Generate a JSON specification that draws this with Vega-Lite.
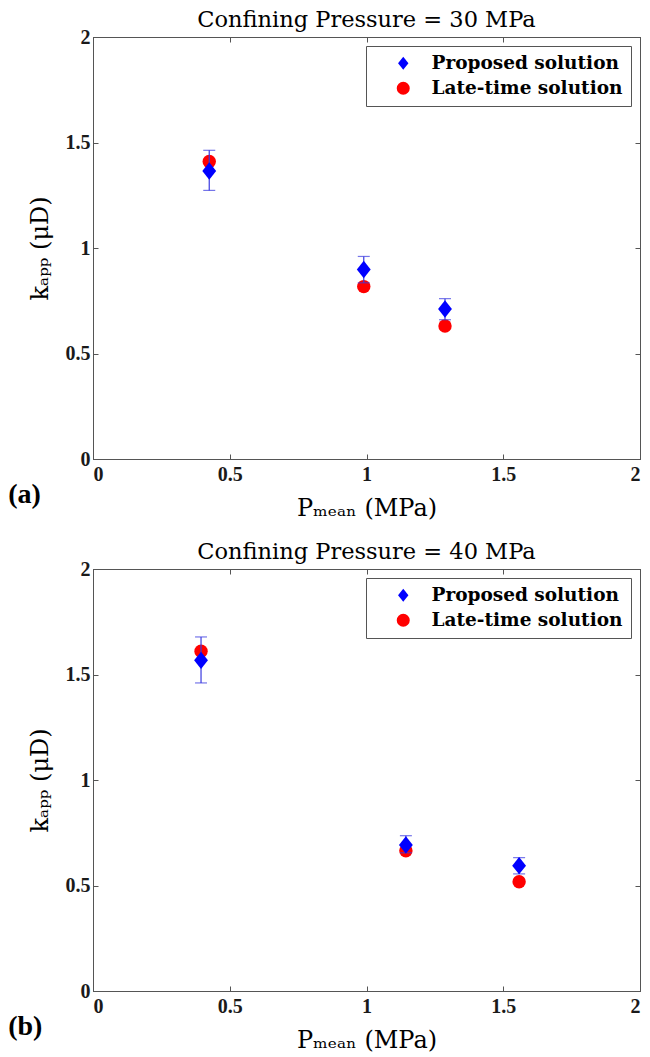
{
  "$schema": "https://vega.github.io/schema/vega-lite/v6.json",
  "autosize": {"type": "pad"},
  "padding": {"left": 7, "top": 8, "right": 5, "bottom": 5},
  "background": "white",
  "config": {
    "view": {"stroke": "#555555", "strokeWidth": 1},
    "font": "Liberation Serif",
    "title": {"font": "DejaVu Serif", "fontSize": 22.5, "fontWeight": "normal", "color": "#000000", "offset": -4},
    "axis": {
      "grid": false,
      "domainColor": "#555555",
      "tickColor": "#555555",
      "tickSize": -5,
      "labelFont": "Liberation Serif",
      "labelFontWeight": "bold",
      "labelFontSize": 20,
      "labelColor": "#1a1a1a",
      "titleFont": "DejaVu Serif",
      "titleFontWeight": "normal",
      "titleFontSize": 24,
      "titleColor": "#000000",
      "labelPadding": 8
    },
    "legend": {
      "labelFont": "DejaVu Serif",
      "labelFontWeight": "bold",
      "labelFontSize": 18.5,
      "labelColor": "#000000",
      "labelLimit": 400,
      "strokeColor": "#555555",
      "fillColor": "white",
      "padding": 8,
      "offset": 9,
      "rowPadding": 6,
      "symbolSize": 170,
      "labelOffset": 19,
      "symbolOffset": 20
    }
  },
  "datasets": {
    "pts": [
      {"panel": "a", "series": "Late-time solution", "x": 0.425, "y": 1.41},
      {"panel": "a", "series": "Late-time solution", "x": 0.99, "y": 0.817},
      {"panel": "a", "series": "Late-time solution", "x": 1.287, "y": 0.63},
      {"panel": "a", "series": "Proposed solution", "x": 0.425, "y": 1.365, "lo": 1.273, "hi": 1.463},
      {"panel": "a", "series": "Proposed solution", "x": 0.99, "y": 0.898, "lo": 0.835, "hi": 0.96},
      {"panel": "a", "series": "Proposed solution", "x": 1.287, "y": 0.711, "lo": 0.66, "hi": 0.76},
      {"panel": "b", "series": "Late-time solution", "x": 0.395, "y": 1.61},
      {"panel": "b", "series": "Late-time solution", "x": 1.144, "y": 0.665},
      {"panel": "b", "series": "Late-time solution", "x": 1.558, "y": 0.518},
      {"panel": "b", "series": "Proposed solution", "x": 0.395, "y": 1.567, "lo": 1.46, "hi": 1.678},
      {"panel": "b", "series": "Proposed solution", "x": 1.144, "y": 0.692, "lo": 0.655, "hi": 0.736},
      {"panel": "b", "series": "Proposed solution", "x": 1.558, "y": 0.594, "lo": 0.555, "hi": 0.632}
    ],
    "tags": [
      {"panel": "a", "label": "(a)"},
      {"panel": "b", "label": "(b)"}
    ]
  },
  "spacing": 110,
  "bounds": "flush",
  "resolve": {
    "scale": {"color": "independent", "shape": "independent"},
    "legend": {"color": "independent", "shape": "independent"}
  },
  "vconcat": [
    {
      "title": "Confining Pressure = 30 MPa",
      "width": 547,
      "height": 422,
      "resolve": {"axis": {"x": "independent", "y": "independent"}},
      "layer": [
        {
          "data": {"name": "pts"},
          "transform": [{"filter": "datum.panel === 'a' && datum.series === 'Late-time solution'"}],
          "mark": {"type": "point", "filled": true, "opacity": 1, "size": 180},
          "encoding": {
            "x": {"field": "x", "type": "quantitative", "scale": {"domain": [0, 2], "nice": false}, "axis": {"values": [0, 0.5, 1, 1.5, 2], "format": "~g", "title": "Pₘₑₐₙ (MPa)", "titlePadding": 12, "labelPadding": 10}},
            "y": {"field": "y", "type": "quantitative", "scale": {"domain": [0, 2], "nice": false}, "axis": {"values": [0, 0.5, 1, 1.5, 2], "format": "~g", "title": "kₐₚₚ (μD)", "titlePadding": 13}},
            "color": {"field": "series", "type": "nominal", "scale": {"domain": ["Proposed solution", "Late-time solution"], "range": ["#0000ff", "#ff0000"]}, "legend": {"title": null, "orient": "top-right"}},
            "shape": {"field": "series", "type": "nominal", "scale": {"domain": ["Proposed solution", "Late-time solution"], "range": ["M0,-1L0.8,0L0,1L-0.8,0Z", "circle"]}, "legend": {"title": null, "orient": "top-right"}}
          }
        },
        {
          "data": {"name": "pts"},
          "transform": [{"filter": "datum.panel === 'a' && datum.series === 'Proposed solution'"}],
          "mark": {"type": "rule", "color": "#3a3ae0", "strokeWidth": 1.2},
          "encoding": {
            "x": {"field": "x", "type": "quantitative", "axis": null},
            "y": {"field": "lo", "type": "quantitative", "axis": null},
            "y2": {"field": "hi"}
          }
        },
        {
          "data": {"name": "pts"},
          "transform": [{"filter": "datum.panel === 'a' && datum.series === 'Proposed solution'"}, {"fold": ["lo", "hi"], "as": ["end", "v"]}],
          "mark": {"type": "tick", "orient": "horizontal", "color": "#3a3ae0", "size": 12, "thickness": 1.2},
          "encoding": {
            "x": {"field": "x", "type": "quantitative", "axis": null},
            "y": {"field": "v", "type": "quantitative", "axis": null}
          }
        },
        {
          "data": {"name": "pts"},
          "transform": [{"filter": "datum.panel === 'a' && datum.series === 'Proposed solution'"}],
          "mark": {"type": "point", "filled": true, "opacity": 1, "size": 300},
          "encoding": {
            "x": {"field": "x", "type": "quantitative", "axis": {"orient": "top", "values": [0, 0.5, 1, 1.5, 2], "labels": false, "title": null}},
            "y": {"field": "y", "type": "quantitative", "axis": {"orient": "right", "values": [0, 0.5, 1, 1.5, 2], "labels": false, "title": null}},
            "color": {"field": "series", "type": "nominal", "legend": {"title": null, "orient": "top-right"}},
            "shape": {"field": "series", "type": "nominal", "legend": {"title": null, "orient": "top-right"}}
          }
        },
        {
          "data": {"name": "tags"},
          "transform": [{"filter": "datum.panel === 'a'"}],
          "mark": {"type": "text", "font": "Liberation Serif", "fontWeight": "bold", "fontSize": 28, "align": "left", "baseline": "middle", "clip": false, "color": "#000000"},
          "encoding": {
            "x": {"datum": -0.31, "type": "quantitative", "axis": null},
            "y": {"datum": -0.17, "type": "quantitative", "axis": null},
            "text": {"field": "label"}
          }
        }
      ]
    },
    {
      "title": "Confining Pressure = 40 MPa",
      "width": 547,
      "height": 422,
      "resolve": {"axis": {"x": "independent", "y": "independent"}},
      "layer": [
        {
          "data": {"name": "pts"},
          "transform": [{"filter": "datum.panel === 'b' && datum.series === 'Late-time solution'"}],
          "mark": {"type": "point", "filled": true, "opacity": 1, "size": 180},
          "encoding": {
            "x": {"field": "x", "type": "quantitative", "scale": {"domain": [0, 2], "nice": false}, "axis": {"values": [0, 0.5, 1, 1.5, 2], "format": "~g", "title": "Pₘₑₐₙ (MPa)", "titlePadding": 12, "labelPadding": 10}},
            "y": {"field": "y", "type": "quantitative", "scale": {"domain": [0, 2], "nice": false}, "axis": {"values": [0, 0.5, 1, 1.5, 2], "format": "~g", "title": "kₐₚₚ (μD)", "titlePadding": 13}},
            "color": {"field": "series", "type": "nominal", "scale": {"domain": ["Proposed solution", "Late-time solution"], "range": ["#0000ff", "#ff0000"]}, "legend": {"title": null, "orient": "top-right"}},
            "shape": {"field": "series", "type": "nominal", "scale": {"domain": ["Proposed solution", "Late-time solution"], "range": ["M0,-1L0.8,0L0,1L-0.8,0Z", "circle"]}, "legend": {"title": null, "orient": "top-right"}}
          }
        },
        {
          "data": {"name": "pts"},
          "transform": [{"filter": "datum.panel === 'b' && datum.series === 'Proposed solution'"}],
          "mark": {"type": "rule", "color": "#3a3ae0", "strokeWidth": 1.2},
          "encoding": {
            "x": {"field": "x", "type": "quantitative", "axis": null},
            "y": {"field": "lo", "type": "quantitative", "axis": null},
            "y2": {"field": "hi"}
          }
        },
        {
          "data": {"name": "pts"},
          "transform": [{"filter": "datum.panel === 'b' && datum.series === 'Proposed solution'"}, {"fold": ["lo", "hi"], "as": ["end", "v"]}],
          "mark": {"type": "tick", "orient": "horizontal", "color": "#3a3ae0", "size": 12, "thickness": 1.2},
          "encoding": {
            "x": {"field": "x", "type": "quantitative", "axis": null},
            "y": {"field": "v", "type": "quantitative", "axis": null}
          }
        },
        {
          "data": {"name": "pts"},
          "transform": [{"filter": "datum.panel === 'b' && datum.series === 'Proposed solution'"}],
          "mark": {"type": "point", "filled": true, "opacity": 1, "size": 300},
          "encoding": {
            "x": {"field": "x", "type": "quantitative", "axis": {"orient": "top", "values": [0, 0.5, 1, 1.5, 2], "labels": false, "title": null}},
            "y": {"field": "y", "type": "quantitative", "axis": {"orient": "right", "values": [0, 0.5, 1, 1.5, 2], "labels": false, "title": null}},
            "color": {"field": "series", "type": "nominal", "legend": {"title": null, "orient": "top-right"}},
            "shape": {"field": "series", "type": "nominal", "legend": {"title": null, "orient": "top-right"}}
          }
        },
        {
          "data": {"name": "tags"},
          "transform": [{"filter": "datum.panel === 'b'"}],
          "mark": {"type": "text", "font": "Liberation Serif", "fontWeight": "bold", "fontSize": 28, "align": "left", "baseline": "middle", "clip": false, "color": "#000000"},
          "encoding": {
            "x": {"datum": -0.31, "type": "quantitative", "axis": null},
            "y": {"datum": -0.17, "type": "quantitative", "axis": null},
            "text": {"field": "label"}
          }
        }
      ]
    }
  ]
}
